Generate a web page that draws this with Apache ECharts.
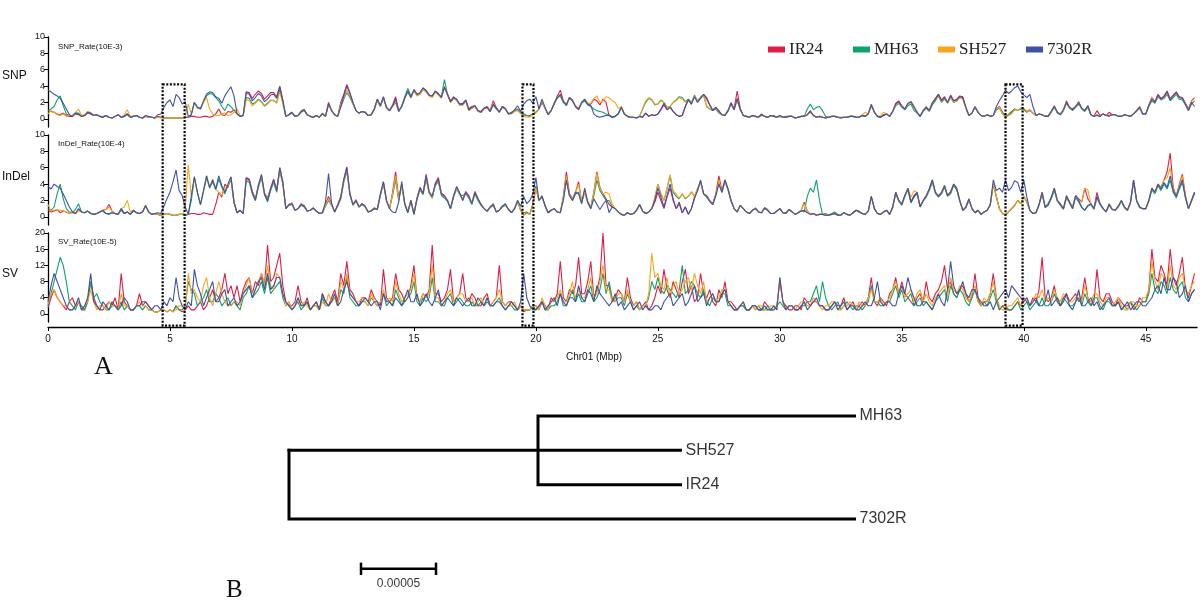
<!DOCTYPE html>
<html>
<head>
<meta charset="utf-8">
<script src="https://cdn.jsdelivr.net/npm/echarts@6/dist/echarts.min.js"></script>
<style>
  html, body { margin: 0; padding: 0; background: #fff; }
  #chart { width: 1200px; height: 605px; }
</style>
</head>
<body>
<div id="chart"></div>
<script>
// cultivars and colours
const cultivars = ['IR24', 'MH63', 'SH527', '7302R'];
const colors = ['#dc1e46', '#12a06b', '#f7a51e', '#3f51a6'];
const windowMbp = 0.125; // one value per 125 kb window along Chr01, one row = 1 Mbp

// SNP rate (10E-3)
const snpIR24 = [
  1.0,0.9,0.8,0.6,0.5,0.7,0.4,0.3, 0.3,0.6,0.5,0.3,0.4,0.7,0.6,0.4,
  0.5,0.3,0.2,0.4,0.2,0.1,0.3,0.5, 0.2,0.3,0.6,0.2,0.3,0.4,0.2,0.1,
  0.3,0.2,0.2,0.1,0.3,0.2,0.1,0.1, 0.1,0.1,0.1,0.1,0.1,0.2,0.2,0.3,
  0.3,0.2,0.2,0.3,0.3,0.2,0.3,0.6, 1.2,0.5,0.4,0.9,0.8,1.1,0.6,0.3,
  0.4,3.3,3.2,2.5,3.0,3.4,3.1,2.4, 2.8,3.2,3.2,2.7,4.0,2.3,0.3,0.5,
  0.8,0.3,0.4,0.9,1.1,0.5,0.3,0.2, 0.4,0.2,0.6,0.3,2.0,1.0,0.5,0.3,
  2.0,3.0,4.2,3.2,2.0,1.0,0.7,0.9, 0.8,0.4,0.5,1.2,2.4,1.6,2.6,1.4,
  1.0,1.7,2.7,1.0,1.5,2.6,3.3,2.6, 3.5,3.0,3.1,3.7,3.5,2.9,2.7,3.3,
  3.0,2.6,3.8,3.0,2.2,2.7,2.3,1.8, 1.9,2.3,1.2,1.5,1.6,1.0,0.9,1.3,
  1.5,1.0,2.2,1.4,0.9,1.5,1.3,0.6, 0.8,1.0,1.1,0.7,0.5,0.4,0.3,0.6,
  0.8,1.2,2.0,1.3,0.6,1.0,1.8,2.8, 3.5,2.2,1.7,2.6,2.3,1.5,1.1,2.0,
  2.3,1.8,1.8,2.4,2.2,1.7,2.4,2.0, 0.4,0.2,0.3,0.6,1.5,0.6,0.3,0.2,
  0.2,0.1,0.3,0.2,0.7,0.3,0.5,0.4, 0.6,1.1,1.7,1.1,1.5,0.9,0.5,0.3,
  0.4,1.5,2.4,1.8,2.8,2.1,2.6,3.0, 2.4,1.7,1.1,1.4,1.0,0.5,0.5,1.0,
  2.0,1.2,3.4,1.3,0.4,0.3,0.2,0.4, 0.3,0.2,0.6,0.3,0.2,0.4,0.4,0.2,
  0.4,0.2,0.3,0.3,0.3,0.1,0.2,0.3, 0.3,0.5,1.0,0.4,0.2,0.3,0.2,0.1,
  0.2,0.3,0.3,0.2,0.2,0.2,0.2,0.3, 0.3,0.2,0.2,0.4,0.3,0.6,1.8,0.8,
  0.3,0.2,0.5,0.6,0.3,0.9,1.9,2.2, 1.6,1.2,1.8,2.1,1.5,0.8,0.3,1.0,
  1.5,1.0,2.0,2.5,3.0,2.3,2.7,2.0, 2.9,2.2,2.4,2.8,2.7,1.4,0.4,0.7,
  1.4,0.8,0.4,0.3,0.5,0.3,0.4,1.2, 1.5,0.8,0.3,0.5,0.8,1.2,1.0,1.3,
  1.2,0.9,1.1,0.7,0.4,0.6,0.5,0.3, 0.4,0.9,1.6,0.8,0.6,1.1,2.2,1.4,
  1.2,1.5,2.1,1.3,1.0,1.6,0.5,0.3, 1.0,0.4,0.6,0.4,0.8,0.5,0.5,0.3,
  0.3,0.5,0.4,0.3,0.6,1.0,1.5,0.6, 0.6,1.7,2.6,2.1,3.0,2.5,2.8,3.4,
  2.5,2.9,3.3,2.7,2.6,1.9,1.2,2.2, 2.6
];
const snpMH63 = [
  1.0,1.2,1.5,2.3,2.8,1.6,0.6,0.4, 0.4,0.7,0.7,0.3,0.4,0.8,0.6,0.4,
  0.5,0.3,0.2,0.4,0.2,0.1,0.3,0.5, 0.2,0.3,0.5,0.2,0.3,0.4,0.2,0.1,
  0.3,0.2,0.2,0.1,0.2,0.2,0.1,0.1, 0.1,0.1,0.1,0.1,0.1,0.2,0.2,0.5,
  2.0,1.4,1.3,2.1,2.8,3.1,3.0,2.6, 2.2,1.5,1.0,1.8,1.5,1.0,0.6,0.3,
  0.4,2.6,2.5,1.8,2.0,2.4,2.1,1.6, 1.9,2.3,2.2,2.0,3.5,2.0,0.3,0.5,
  0.7,0.3,0.4,0.8,1.0,0.5,0.3,0.2, 0.4,0.2,0.7,0.3,1.8,1.0,0.5,0.3,
  1.4,2.4,3.2,2.6,1.8,1.0,0.7,0.9, 0.8,0.4,0.5,1.1,2.2,1.5,2.5,1.3,
  1.0,1.5,2.0,0.9,1.6,2.7,3.7,2.8, 3.4,2.9,3.0,3.6,3.3,2.8,2.8,3.3,
  3.0,2.7,4.8,3.0,2.0,2.5,2.4,1.7, 1.7,2.2,1.0,1.3,1.5,0.9,0.8,1.2,
  1.4,0.9,1.7,1.2,0.8,1.4,1.2,0.6, 0.7,1.0,1.2,0.8,0.6,0.4,0.4,0.6,
  0.8,1.2,2.1,1.3,0.5,1.0,1.8,2.5, 2.8,2.0,1.6,2.5,2.2,1.5,1.2,1.9,
  2.2,1.7,1.5,1.2,1.0,0.9,0.8,0.6, 0.5,0.2,0.3,0.6,1.4,0.6,0.3,0.2,
  0.2,0.1,0.3,1.2,2.0,2.5,2.3,1.7, 1.8,2.3,2.0,1.4,1.5,2.0,2.3,2.7,
  2.6,2.1,2.4,2.0,2.9,2.2,2.6,2.9, 1.5,1.2,1.0,1.2,0.7,0.5,0.4,0.9,
  1.8,1.1,2.3,1.1,0.4,0.3,0.2,0.4, 0.3,0.2,0.5,0.3,0.2,0.4,0.3,0.2,
  0.3,0.2,0.2,0.3,0.3,0.1,0.2,0.3, 0.3,1.2,1.8,1.1,1.4,1.5,1.0,0.3,
  0.2,0.3,0.3,0.2,0.1,0.2,0.2,0.3, 0.3,0.2,0.2,0.4,0.3,0.6,1.6,0.8,
  0.3,0.2,0.4,0.6,0.3,0.9,1.6,1.9, 1.4,1.1,1.6,1.8,1.0,0.7,0.3,0.9,
  1.3,0.9,1.7,2.2,2.8,2.0,2.4,1.9, 2.6,2.0,2.2,2.6,2.5,1.3,0.4,0.7,
  1.4,0.8,0.4,0.3,0.5,0.3,0.4,1.1, 1.3,0.7,0.2,0.5,0.9,1.2,1.0,1.2,
  1.1,0.8,1.0,0.7,0.4,0.6,0.5,0.3, 0.3,0.8,1.4,0.7,0.5,1.0,1.9,1.3,
  1.0,1.4,1.8,1.2,0.9,1.4,0.5,0.3, 0.5,0.3,0.6,0.4,0.4,0.5,0.5,0.3,
  0.3,0.5,0.4,0.3,0.6,0.9,1.3,0.6, 0.6,1.5,2.2,1.9,2.7,2.3,2.5,3.0,
  2.2,2.6,3.0,2.4,2.3,1.7,1.0,1.8, 2.2
];
const snpSH527 = [
  0.6,1.0,0.8,0.5,0.4,0.6,0.3,0.4, 0.4,0.8,1.2,0.4,0.5,0.9,0.8,0.4,
  0.5,0.3,0.3,0.4,0.2,0.1,0.3,0.5, 0.2,0.5,1.1,0.3,0.3,0.4,0.2,0.1,
  0.3,0.2,0.2,0.1,0.2,0.1,0.1,0.1, 0.1,0.1,0.1,0.1,0.1,0.3,1.8,0.6,
  2.0,1.3,1.2,2.0,2.6,1.2,0.6,0.4, 0.4,0.6,0.7,0.4,0.5,0.8,1.2,0.4,
  0.4,2.4,2.2,1.6,1.9,2.3,2.0,1.5, 1.8,2.2,2.3,1.9,3.3,1.9,0.3,0.5,
  0.8,0.3,0.4,1.0,1.2,0.5,0.3,0.2, 0.4,0.2,0.6,0.3,1.7,1.0,0.5,0.3,
  1.8,2.6,3.5,2.8,1.8,1.0,0.7,0.9, 0.9,0.4,0.5,1.2,2.3,1.5,2.6,1.4,
  1.0,1.5,2.2,0.9,1.5,2.5,3.3,2.6, 3.4,2.8,3.0,3.6,3.3,2.8,2.6,3.2,
  2.9,2.5,4.0,2.9,2.0,2.5,2.2,1.7, 1.7,2.1,1.0,1.3,1.5,0.9,0.8,1.2,
  1.4,0.9,1.9,1.3,0.8,1.5,1.2,0.6, 0.6,0.9,1.0,0.6,0.3,0.2,0.2,0.5,
  0.7,1.2,2.2,1.3,0.6,1.0,2.0,2.6, 2.9,2.1,1.8,2.5,2.2,1.5,1.3,2.0,
  2.4,1.9,1.9,2.5,2.8,2.0,2.2,2.7, 2.6,2.2,2.0,1.3,1.4,0.7,0.3,0.2,
  0.2,0.1,0.3,1.3,2.2,2.6,2.4,1.8, 1.8,2.2,2.0,1.4,1.5,2.0,2.2,2.6,
  2.4,2.0,2.2,1.9,2.8,2.1,2.5,2.8, 1.6,1.2,1.2,1.3,0.8,0.5,0.5,1.0,
  1.8,1.1,2.4,1.2,0.4,0.3,0.2,0.4, 0.3,0.2,0.4,0.3,0.2,0.4,0.3,0.2,
  0.3,0.2,0.2,0.3,0.3,0.1,0.2,0.3, 0.3,0.5,0.8,0.4,0.2,0.3,0.2,0.1,
  0.2,0.3,0.3,0.2,0.1,0.2,0.2,0.3, 0.3,0.2,0.2,0.5,0.8,0.6,1.7,0.8,
  0.3,0.4,0.8,0.6,0.3,0.9,1.7,2.0, 1.5,1.2,1.8,2.0,1.6,0.8,0.3,1.0,
  1.5,1.0,2.0,2.4,2.7,2.1,2.5,2.0, 2.6,2.1,2.2,2.6,2.4,1.3,0.4,0.7,
  1.4,0.8,0.4,0.3,0.5,0.3,0.4,1.3, 1.4,0.6,0.1,0.4,0.6,1.1,1.0,1.3,
  1.3,0.9,1.0,0.7,0.4,0.6,0.5,0.3, 0.4,0.9,1.5,0.8,0.6,1.1,2.0,1.4,
  1.1,1.5,2.0,1.3,1.0,1.5,0.5,0.3, 0.5,0.3,0.6,0.4,0.5,0.5,0.5,0.3,
  0.3,0.5,0.4,0.3,0.6,1.0,1.4,0.6, 0.6,1.6,2.5,2.0,2.8,2.4,2.6,3.2,
  2.4,2.8,3.1,2.6,2.5,1.8,1.0,2.1, 2.5
];
const snp7302R = [
  3.5,3.3,3.0,2.8,2.5,1.9,1.2,0.5, 0.3,0.7,0.6,0.3,0.4,0.8,0.7,0.4,
  0.5,0.3,0.2,0.4,0.2,0.1,0.3,0.5, 0.2,0.3,0.6,0.2,0.3,0.4,0.2,0.1,
  0.4,0.3,0.2,0.1,0.5,0.6,1.4,2.0, 2.3,1.5,3.0,2.6,1.8,2.1,0.3,0.5,
  2.0,1.4,1.2,2.2,3.0,3.3,3.2,2.7, 2.5,1.9,2.8,3.4,3.9,2.8,0.6,0.3,
  0.4,3.2,3.0,2.2,2.6,3.1,2.8,2.1, 2.4,2.9,3.0,2.5,3.9,2.2,0.3,0.5,
  0.8,0.3,0.4,0.9,1.1,0.5,0.3,0.2, 0.4,0.2,0.6,0.3,1.8,1.0,0.5,0.3,
  1.5,2.8,4.0,3.1,2.0,1.0,0.7,0.9, 0.8,0.4,0.5,1.2,2.4,1.6,2.7,1.4,
  1.0,1.6,2.4,0.9,1.5,2.5,3.4,2.6, 3.6,3.0,3.2,3.8,3.4,2.9,2.8,3.4,
  3.1,2.6,3.9,3.0,2.1,2.6,2.4,1.8, 1.8,2.3,1.1,1.4,1.6,1.0,0.8,1.3,
  1.4,0.9,1.8,1.3,0.8,1.5,1.2,0.6, 0.7,1.1,1.6,0.9,1.8,2.2,2.4,1.9,
  2.7,1.2,2.4,1.4,0.5,1.0,1.9,2.6, 3.0,2.1,1.7,2.6,2.2,1.5,1.2,2.0,
  2.4,1.8,1.6,0.6,0.3,0.2,0.3,0.4, 0.4,0.2,0.3,0.6,1.4,0.6,0.3,0.2,
  0.2,0.1,0.3,0.2,0.7,0.3,0.5,0.4, 0.6,1.2,1.9,1.1,1.4,0.9,0.5,0.3,
  0.4,1.5,2.3,1.8,2.7,2.0,2.5,3.0, 2.6,1.7,1.0,1.4,0.9,0.5,0.4,1.0,
  1.9,1.1,2.5,1.2,0.4,0.3,0.2,0.4, 0.3,0.2,0.5,0.3,0.2,0.4,0.3,0.2,
  0.4,0.2,0.2,0.3,0.3,0.1,0.2,0.3, 0.3,0.5,0.9,0.4,0.2,0.3,0.2,0.1,
  0.2,0.3,0.3,0.2,0.1,0.2,0.2,0.3, 0.3,0.2,0.2,0.4,0.3,0.6,1.7,0.8,
  0.3,0.2,0.4,0.6,0.3,0.9,1.8,2.1, 1.5,1.2,1.9,2.1,1.4,0.8,0.3,1.0,
  1.4,1.0,1.9,2.4,3.0,2.2,2.6,2.0, 2.8,2.2,2.3,2.7,2.6,1.4,0.4,0.7,
  1.5,0.8,0.4,0.3,0.5,0.3,0.4,1.5, 2.2,2.8,3.5,3.1,3.4,3.8,4.0,3.3,
  2.9,2.6,3.0,1.5,0.4,0.6,0.5,0.3, 0.3,0.9,1.5,0.8,0.5,1.1,2.0,1.4,
  1.1,1.5,2.0,1.3,1.0,1.6,0.5,0.3, 0.4,0.3,0.6,0.4,0.3,0.5,0.5,0.3,
  0.3,0.5,0.4,0.3,0.6,1.0,1.4,0.6, 0.6,1.6,2.4,2.0,2.9,2.4,2.7,3.3,
  2.3,2.8,3.2,2.6,2.5,1.8,1.0,2.0, 1.5
];

// InDel rate (10E-4)
const indelIR24 = [
  0.8,0.6,0.7,0.9,0.5,0.7,0.6,0.4, 0.6,0.4,0.8,0.6,0.5,0.7,0.4,0.3,
  0.4,0.6,0.8,0.9,1.5,0.7,0.4,0.3, 1.0,0.4,0.6,0.3,0.8,0.5,0.4,0.6,
  1.4,0.6,0.3,0.4,0.3,0.2,0.3,0.4, 0.3,0.2,0.2,0.3,0.3,0.2,0.3,0.4,
  0.4,0.3,0.3,0.5,0.4,0.3,0.3,1.5, 3.0,2.4,4.0,3.6,4.8,1.8,0.5,0.8,
  0.4,4.8,4.6,3.1,2.2,3.9,5.0,2.9, 2.3,3.5,4.6,3.3,6.0,4.3,1.0,1.5,
  1.7,0.8,1.0,1.6,1.4,0.7,0.8,1.1, 0.7,0.4,0.5,1.5,2.5,1.6,0.6,1.5,
  2.5,4.6,6.1,2.9,1.5,2.1,1.2,1.6, 1.3,0.6,0.8,1.1,0.9,2.7,4.2,2.0,
  1.0,3.0,5.5,2.2,4.0,1.6,0.6,2.0, 0.4,2.3,3.6,2.9,5.2,3.1,2.4,4.1,
  4.8,2.9,2.6,2.0,1.0,2.6,3.6,2.9, 2.1,3.1,2.6,1.6,3.1,2.2,1.5,1.0,
  0.7,1.2,1.6,0.6,0.8,1.3,1.5,0.9, 0.5,1.0,2.0,0.8,0.2,0.5,0.3,1.5,
  3.5,2.0,2.6,1.4,0.5,0.8,1.0,0.6, 0.5,2.5,5.5,2.8,2.2,3.0,4.3,1.8,
  3.2,1.8,1.2,3.0,5.5,3.6,2.8,2.2, 1.5,1.2,1.0,0.6,0.3,0.2,0.5,0.3,
  0.4,0.8,1.5,0.7,0.4,0.6,1.0,1.8, 3.0,2.0,1.0,2.4,3.5,2.0,1.0,1.6,
  0.5,1.2,0.3,1.0,2.4,3.2,4.3,2.8, 2.6,2.0,1.6,2.8,5.0,3.2,4.5,3.4,
  2.0,1.0,0.6,1.4,1.0,0.6,0.4,0.8, 1.1,0.6,0.5,1.1,0.9,0.4,0.4,0.7,
  1.0,0.5,0.5,0.9,0.6,0.3,0.5,0.8, 1.8,0.7,0.3,0.4,0.2,0.3,0.3,0.2,
  0.2,0.3,0.4,0.2,0.2,0.5,0.3,0.2, 0.5,0.8,0.7,0.4,0.3,0.7,2.5,1.0,
  0.4,0.3,0.6,0.8,0.3,1.2,3.0,2.0, 1.6,2.6,3.4,1.8,2.6,3.0,1.3,2.0,
  2.6,3.4,4.5,3.0,2.6,3.0,3.8,2.6, 3.1,4.0,3.4,2.0,0.8,1.2,2.2,1.0,
  0.5,0.8,0.3,0.6,0.8,1.5,4.0,2.5, 1.0,0.4,0.2,0.6,1.0,1.4,2.0,1.6,
  2.5,1.8,0.8,0.4,0.5,1.5,3.0,1.2, 1.6,2.4,3.4,2.0,1.6,1.0,2.6,1.8,
  1.2,2.6,2.2,1.8,3.5,2.2,1.6,1.0, 3.0,1.6,1.0,0.6,1.6,0.9,0.8,1.3,
  2.0,1.2,0.8,1.8,4.5,2.0,1.2,1.0, 1.0,2.0,3.5,3.0,4.0,3.6,4.5,5.5,
  7.8,3.6,2.5,4.0,5.2,2.6,1.0,2.0, 3.0
];
const indelMH63 = [
  1.0,0.8,1.2,2.8,4.0,2.2,1.0,0.6, 0.5,0.9,1.6,0.6,0.5,0.7,0.4,0.3,
  0.4,0.6,0.7,0.4,0.4,0.5,0.4,0.3, 0.8,0.4,0.6,0.3,0.7,0.5,0.4,0.6,
  1.3,0.6,0.3,0.4,0.3,0.2,0.3,0.4, 0.3,0.2,0.2,0.3,0.3,0.2,0.3,2.0,
  4.8,3.0,1.5,3.1,4.8,3.5,4.3,3.3, 4.6,3.6,2.8,3.8,4.5,1.7,0.5,0.8,
  0.4,4.4,4.2,2.8,2.0,3.6,4.8,2.7, 1.8,3.2,4.2,3.0,5.6,4.0,1.0,1.4,
  1.5,0.8,1.0,1.4,1.2,0.7,0.8,1.0, 0.7,0.4,0.5,1.3,2.0,1.4,0.6,1.3,
  2.2,4.2,5.6,2.7,1.4,1.9,1.2,1.5, 1.2,0.6,0.7,1.0,0.9,2.6,4.0,1.9,
  1.0,2.6,4.5,2.0,3.8,1.5,0.5,1.9, 0.3,2.1,3.3,2.7,4.6,2.9,2.3,3.8,
  4.3,2.6,2.3,1.9,1.0,2.4,3.4,2.7, 2.6,2.8,2.3,1.5,2.8,2.0,1.4,1.0,
  0.7,1.1,1.4,0.6,0.8,1.2,1.4,0.9, 0.5,1.0,1.8,0.8,0.5,0.6,0.3,1.6,
  3.8,2.0,2.4,1.3,0.5,0.8,1.0,0.6, 0.5,2.2,4.5,2.6,2.0,2.8,3.0,1.7,
  3.0,1.7,1.0,2.6,4.5,3.2,2.6,2.0, 2.0,1.3,1.0,0.6,0.3,0.2,0.5,0.3,
  0.4,0.8,1.4,0.7,0.4,0.6,1.0,2.2, 4.0,2.8,2.0,3.4,5.0,3.0,2.5,2.2,
  2.8,2.2,2.5,3.0,2.5,3.4,4.3,2.8, 2.4,1.9,1.5,2.6,4.2,3.0,4.3,3.3,
  1.9,1.0,0.6,1.4,1.0,0.6,0.4,0.8, 1.0,0.6,0.5,1.0,0.8,0.4,0.4,0.7,
  1.0,0.5,0.4,0.9,0.6,0.3,0.5,0.7, 0.6,2.5,3.5,3.0,4.5,2.0,0.3,0.4,
  0.2,0.4,0.6,0.3,0.2,0.5,0.3,0.2, 0.5,0.8,0.6,0.4,0.3,0.7,2.4,1.0,
  0.4,0.3,0.6,0.8,0.3,1.1,2.8,1.9, 1.4,2.5,3.3,1.7,2.4,2.8,1.2,1.9,
  2.4,3.2,4.2,2.9,2.4,2.8,3.6,2.5, 2.8,3.8,3.3,1.9,0.8,1.1,2.0,1.0,
  0.5,0.8,0.3,0.6,0.8,1.4,4.0,2.4, 1.0,0.4,0.2,0.6,1.0,1.4,2.0,1.6,
  2.5,1.8,0.8,0.4,0.5,1.4,2.8,1.1, 1.4,2.2,3.2,1.9,1.4,0.9,2.3,1.7,
  1.0,2.4,1.8,1.1,0.8,1.3,1.5,0.9, 2.3,1.5,1.0,0.6,1.4,0.9,0.8,1.2,
  1.9,1.1,0.8,1.7,4.2,1.9,1.1,1.0, 1.0,1.9,3.3,2.8,3.8,3.2,4.0,3.4,
  4.5,3.0,2.3,3.4,4.2,2.3,1.0,1.9, 2.8
];
const indelSH527 = [
  1.5,0.7,0.8,0.9,0.8,0.7,0.6,0.4, 0.5,0.4,0.8,0.6,0.5,0.7,0.4,0.3,
  0.4,0.6,0.8,0.9,1.2,0.7,0.4,0.3, 1.0,1.2,2.0,0.6,0.8,0.5,0.4,0.6,
  1.4,0.6,0.3,0.4,0.3,0.2,0.3,0.4, 0.3,0.2,0.2,0.3,0.3,0.8,6.4,2.5,
  4.8,3.0,1.5,3.2,5.0,3.6,4.6,3.4, 3.0,2.6,3.5,3.8,4.8,1.8,0.5,0.8,
  0.4,4.6,4.4,3.0,2.1,3.8,5.1,2.8, 2.2,3.4,4.4,3.2,5.8,4.1,1.0,1.5,
  1.6,0.8,1.0,1.5,1.4,0.7,0.8,1.1, 0.7,0.4,0.5,1.4,2.2,1.5,0.6,1.4,
  2.3,4.4,5.8,2.8,1.5,2.0,1.2,1.6, 1.3,0.6,0.8,1.0,0.9,2.7,4.2,2.0,
  1.0,2.8,5.0,2.1,3.8,1.6,0.6,2.0, 0.4,2.2,3.4,2.8,4.8,3.0,2.4,3.9,
  4.5,2.8,2.5,2.0,1.0,2.5,3.5,2.8, 2.0,3.0,2.5,1.6,3.0,2.2,1.5,1.0,
  0.7,1.2,1.5,0.6,0.8,1.3,1.5,0.9, 0.5,1.0,2.0,0.8,0.2,0.4,0.3,1.4,
  3.5,2.0,2.5,1.4,0.5,0.8,1.0,0.6, 0.5,2.4,5.0,2.7,2.2,3.0,4.0,1.8,
  3.0,1.8,1.2,3.0,5.3,3.5,2.8,3.0, 2.8,1.6,1.0,0.6,0.3,0.2,0.5,0.3,
  0.4,0.8,1.5,0.7,0.4,0.6,1.0,2.4, 4.0,2.9,2.0,3.5,5.2,3.2,2.8,2.3,
  2.8,2.3,2.5,3.1,2.5,3.5,4.3,2.8, 2.5,2.0,1.5,2.7,4.5,3.1,4.3,3.3,
  2.0,1.0,0.6,1.4,1.0,0.6,0.4,0.8, 1.0,0.6,0.5,1.1,0.8,0.4,0.4,0.7,
  1.0,0.5,0.4,0.9,0.6,0.3,0.5,0.8, 1.6,0.7,0.3,0.4,0.2,0.3,0.3,0.2,
  0.2,0.3,0.4,0.2,0.2,0.5,0.3,0.2, 0.5,0.8,0.6,0.4,0.3,0.7,2.5,1.0,
  0.4,0.3,0.6,0.8,0.3,1.2,3.0,2.0, 1.5,2.6,3.5,2.4,3.2,3.0,1.2,2.0,
  2.5,3.4,4.4,3.0,2.5,2.9,3.8,2.6, 3.0,4.0,3.5,2.0,0.8,1.2,2.2,1.0,
  0.5,0.8,0.3,0.6,0.8,1.5,4.0,2.5, 1.0,0.4,0.2,0.6,1.0,1.4,2.0,1.6,
  2.5,1.8,0.8,0.4,0.5,1.5,3.0,1.2, 1.6,2.4,3.5,2.0,1.5,1.0,2.5,1.8,
  1.2,2.6,2.0,1.8,3.5,3.3,1.6,1.0, 2.5,1.6,1.0,0.6,1.5,0.9,0.8,1.3,
  2.0,1.2,0.8,1.8,4.5,2.0,1.2,1.0, 1.0,2.0,3.5,3.0,4.0,3.5,4.5,4.8,
  6.0,3.4,2.5,3.8,5.0,2.5,1.0,2.0, 3.0
];
const indel7302R = [
  3.7,3.4,4.0,3.7,3.5,2.8,2.0,1.2, 0.6,0.4,1.0,0.6,0.5,0.7,0.4,0.3,
  0.4,0.6,0.8,0.4,0.3,0.5,0.4,0.3, 1.0,0.4,0.6,0.3,0.8,0.5,0.4,0.6,
  1.4,0.6,0.3,0.4,0.5,0.4,1.3,2.2, 3.0,4.3,5.7,3.2,2.6,1.2,0.3,2.5,
  4.9,3.0,1.5,3.2,5.0,3.6,4.5,3.4, 5.0,3.8,3.0,4.0,4.9,1.8,0.5,0.8,
  0.4,4.7,4.5,3.0,2.0,3.8,5.2,2.8, 2.0,3.4,4.5,3.2,6.0,4.2,1.0,1.5,
  1.6,0.8,1.0,1.5,1.3,0.7,0.8,1.1, 0.7,0.4,0.5,1.8,5.3,1.6,0.6,1.4,
  2.3,4.5,6.0,2.8,1.5,2.0,1.2,1.6, 1.3,0.6,0.7,1.0,0.9,2.8,4.3,2.0,
  1.0,0.6,0.5,1.8,4.3,1.6,0.5,2.0, 0.3,2.2,3.5,2.8,5.0,3.0,2.5,4.0,
  4.6,2.8,2.5,2.0,1.0,2.5,3.7,2.9, 2.0,3.0,2.5,1.6,3.0,2.2,1.5,1.0,
  0.7,1.2,1.5,0.6,0.8,1.3,1.6,0.9, 0.5,1.0,2.0,1.3,2.5,1.6,2.0,2.8,
  4.8,2.0,2.5,1.4,0.5,0.8,1.0,0.6, 0.5,2.0,4.5,2.6,2.0,3.0,2.8,1.6,
  3.5,1.8,1.0,2.2,1.5,0.9,1.5,2.0, 0.5,1.2,1.0,0.6,0.3,0.2,0.5,0.3,
  0.4,0.8,1.5,0.7,0.4,0.6,1.0,2.0, 3.5,2.4,1.2,2.6,4.0,2.2,1.0,1.8,
  0.5,1.2,0.3,1.0,2.2,3.2,4.5,2.8, 2.5,1.9,1.5,2.6,4.0,3.0,4.5,3.4,
  2.0,1.0,0.6,1.4,1.0,0.6,0.4,0.8, 1.0,0.6,0.5,1.1,0.8,0.4,0.4,0.7,
  1.0,0.5,0.4,0.9,0.6,0.3,0.5,0.7, 0.8,0.5,0.3,0.4,0.2,0.3,0.3,0.2,
  0.2,0.3,0.4,0.2,0.2,0.5,0.3,0.2, 0.5,0.8,0.6,0.4,0.3,0.7,2.5,1.0,
  0.4,0.3,0.6,0.8,0.3,1.2,3.0,2.0, 1.5,2.6,3.5,1.8,2.5,3.0,1.2,2.0,
  2.5,3.4,4.5,3.0,2.5,2.9,3.8,2.6, 3.0,4.0,3.5,2.0,0.8,1.2,2.2,1.0,
  0.5,0.8,0.3,0.6,0.8,1.5,4.5,3.2, 3.5,3.0,4.5,3.2,3.6,4.4,4.2,3.0,
  4.5,2.4,0.8,0.4,0.5,1.5,3.0,1.2, 1.5,2.4,3.5,2.0,1.5,1.0,2.5,1.8,
  1.0,2.6,2.0,1.2,0.8,1.4,1.6,1.0, 2.5,1.6,1.0,0.6,1.5,0.9,0.8,1.3,
  2.0,1.2,0.8,1.8,4.5,2.0,1.2,1.0, 1.0,2.0,3.5,3.0,4.0,3.4,4.2,3.6,
  5.0,3.2,2.5,3.6,4.5,2.4,1.0,2.0, 3.0
];

// SV rate (10E-5)
const svIR24 = [
  1.5,4,6,4,3,2,1,3, 4,2,3,1,1,3,8,4,
  2,1,1,2,3,2,4,1, 10,3,2,1,1,2,5,2,
  3,2,1,0.5,0.5,1,1,0.5, 1,0.5,2,1,0.5,1,2,1,
  1,2,3,1,2,4,6,3, 4,6,10,5,7,4,7,3,
  6,8,9,5,8,7,10,7, 17,8,9,12,15,7,3,2,
  2,3,7,3,2,4,1,2, 3,1,5,3,2,4,6,3,
  10,7,13,6,5,3,2,4, 4,3,6,4,3,2,11,4,
  3,4,10,6,5,3,4,7, 12,4,3,5,4,6,17,5,
  5,3,4,6,11,3,4,5, 10,4,3,5,4,2,2,4,
  5,2,3,4,12,3,2,3, 3,2,1,2,0.5,1,1,2,
  2,1,3,2,1,4,3,5, 13,4,3,6,5,7,14,5,
  5,8,13,4,6,9,20,7, 7,3,4,6,5,3,9,4,
  2,3,1,2,3,1,2,4, 7,5,11,6,4,8,6,4,
  8,11,5,7,3,4,10,5, 4,6,3,2,6,4,8,3,
  3,2,1,2,2,1,1,2, 2,1,1,3,2,1,1,2,
  8,3,2,1,1,2,2,1, 4,3,2,3,3,2,2,1,
  1,2,3,2,2,4,1,2, 3,1,2,3,2,4,9,3,
  2,4,3,2,5,6,9,5, 8,5,4,3,2,4,5,3,
  8,4,3,5,6,8,12,6, 8,5,4,6,7,5,3,4,
  10,4,2,3,3,5,10,4, 1,2,2,1,1,2,3,2,
  4,3,2,4,3,6,14,4, 3,4,7,3,2,4,5,3,
  4,5,3,4,9,4,2,3, 11,4,3,5,5,3,2,4,
  3,2,2,3,1,2,4,3, 3,6,16,9,8,12,10,7,
  16,9,7,10,14,6,4,7, 10
];
const svMH63 = [
  2,5,8,11,14,12,8,3, 2,1,3,2,1,3,8,4,
  5,3,2,1,1,2,2,1, 3,1,2,1,1,2,2,1,
  2,1,1,0.5,0.5,1,1,0.5, 1,0.5,2,1,1,2,8,6,
  5,2,3,4,6,3,3,5, 4,2,3,4,2,3,2,1,
  4,5,7,4,5,6,8,5, 9,5,6,7,8,4,2,3,
  1,2,3,1,2,3,1,2, 2,1,4,2,2,3,4,2,
  6,5,9,4,3,2,2,3, 3,2,4,3,2,3,5,2,
  3,2,6,4,2,3,4,5, 8,3,2,4,3,4,9,3,
  3,2,2,4,5,2,3,4, 3,2,2,3,2,2,3,2,
  3,2,2,3,4,2,1,2, 2,1,1,2,1,1,1,2,
  1,2,3,1,1,2,2,3, 5,2,2,4,6,3,5,3,
  3,5,7,3,4,6,10,5, 8,4,3,4,4,2,5,3,
  1,2,1,2,2,4,8,6, 9,6,5,7,6,5,4,6,
  12,5,6,8,7,5,4,6, 3,2,4,3,3,5,5,2,
  2,1,1,2,2,1,1,2, 1,2,1,1,2,1,1,2,
  3,2,1,2,2,1,1,2, 2,3,3,5,7,3,8,4,
  2,1,2,3,1,2,3,2, 1,2,2,1,2,3,7,3,
  3,2,2,3,3,5,7,4, 6,3,4,5,2,3,4,2,
  3,2,1,3,4,5,6,3, 7,5,4,6,5,3,2,4,
  6,3,2,3,2,4,6,3, 1,2,1,1,1,2,3,1,
  2,3,1,2,3,2,4,2, 2,3,5,3,2,4,3,2,
  2,3,4,2,5,3,2,4, 4,2,1,3,3,2,2,3,
  1,2,1,3,2,1,2,3, 3,5,10,6,5,8,7,5,
  9,6,5,7,8,4,3,5, 6
];
const svSH527 = [
  2.5,5,6,4,3,2,2,1, 1,2,3,1,2,3,6,3,
  1,2,2,1,3,2,2,1, 5,2,2,1,1,2,3,2,
  2,1,1,0.5,0.5,1,1,0.5, 1,0.5,1,2,2,1,10,5,
  6,4,3,7,9,4,2,5, 8,5,3,2,2,3,3,2,
  5,7,9,5,6,8,10,7, 12,7,6,10,9,5,2,3,
  1,2,4,2,3,2,1,2, 2,1,3,2,5,3,4,2,
  8,6,10,5,4,3,3,4, 3,2,5,3,2,3,6,3,
  4,3,8,5,3,4,5,6, 10,4,3,5,4,5,12,4,
  4,2,3,5,6,3,4,5, 5,3,3,4,2,3,4,2,
  4,2,3,4,6,3,2,3, 2,3,1,2,1,1,1,2,
  2,1,4,2,1,3,3,4, 6,3,3,5,8,4,6,4,
  4,6,9,4,5,8,12,6, 6,3,3,5,5,3,6,3,
  2,3,1,2,2,5,15,9, 10,7,6,9,4,7,8,5,
  6,8,9,6,10,7,5,8, 3,4,5,3,4,6,6,3,
  2,1,1,2,3,1,1,2, 1,2,2,1,1,2,2,1,
  9,3,1,2,2,1,2,3, 3,2,2,4,3,2,1,2,
  2,3,3,1,1,2,2,3, 2,1,3,2,2,4,6,3,
  3,4,2,3,4,6,8,5, 7,4,5,6,3,5,6,3,
  5,3,2,4,5,6,7,4, 9,6,5,7,6,4,3,5,
  7,3,2,4,3,5,8,4, 2,1,1,2,2,3,4,2,
  3,4,2,3,5,4,6,3, 4,3,6,4,3,5,4,3,
  3,4,5,3,7,4,3,5, 5,3,2,4,4,2,3,4,
  2,1,1,3,3,2,2,4, 4,6,13,8,6,10,9,6,
  12,7,6,9,10,6,5,7, 8
];
const sv7302R = [
  3,7,10,8,6,4,2,1, 1,2,4,1,2,4,10,3,
  2,1,3,2,1,3,2,1, 2,4,3,1,1,2,2,3,
  3,2,1,2,2,1,3,2, 4,3,9,4,2,1,3,2,
  11,7,5,2,4,6,8,3, 3,5,6,2,3,4,2,3,
  5,6,7,4,6,8,9,6, 10,6,7,9,9,5,3,2,
  1,2,4,2,2,3,1,2, 3,1,5,3,2,3,5,2,
  3,6,8,5,4,3,2,3, 4,3,2,3,3,1,5,3,
  3,2,4,3,2,4,6,3, 3,5,2,3,5,3,2,4,
  6,2,3,4,3,2,4,3, 2,3,4,2,2,4,3,2,
  4,2,2,3,3,2,1,2, 3,2,1,3,10,4,2,1,
  1,2,3,1,2,3,4,2, 5,3,2,4,4,3,7,4,
  3,6,5,3,7,5,4,3, 2,3,5,2,3,1,2,3,
  1,2,3,1,2,1,1,2, 2,1,3,4,5,2,3,4,
  5,2,3,5,7,3,4,5, 2,4,5,3,3,5,6,3,
  2,1,1,2,3,1,1,2, 2,1,1,2,1,1,2,1,
  9,3,1,2,2,1,1,2, 3,1,2,3,4,2,2,1,
  1,2,3,1,2,3,1,2, 2,1,1,2,3,2,2,4,
  8,3,2,3,3,2,2,5, 7,5,9,6,4,2,2,3,
  3,2,1,3,5,3,2,6, 13,7,5,6,8,5,4,6,
  6,4,3,2,2,3,1,3, 4,5,6,4,7,6,5,4,
  3,4,2,3,4,2,2,3, 6,2,3,4,2,3,5,2,
  1,3,6,2,2,3,4,2, 3,1,2,3,4,2,2,3,
  1,2,3,1,2,3,3,2, 2,3,4,6,7,5,9,6,
  6,9,8,4,5,7,3,5, 6
];

// panel setup: label, rate caption, y range, tick values
const panelNames = ['SNP', 'InDel', 'SV'];
const panelRates = ['SNP_Rate(10E-3)', 'InDel_Rate(10E-4)', 'SV_Rate(10E-5)'];
const panelTicks = [[0, 2, 4, 6, 8, 10], [0, 2, 4, 6, 8, 10], [0, 4, 8, 12, 16, 20]];
const panelMin = [-1, -1, -2];
const panelMax = [10, 10, 20];
const panelData = [
  [snpIR24, snpMH63, snpSH527, snp7302R],
  [indelIR24, indelMH63, indelSH527, indel7302R],
  [svIR24, svMH63, svSH527, sv7302R]
];
const xTicks = [0, 5, 10, 15, 20, 25, 30, 35, 40, 45];
const chrLength = 47.1;

// highlighted regions (Mbp) drawn as dotted boxes
const boxRanges = [[4.7, 5.6], [19.45, 19.9], [39.25, 39.95]];
const boxTopSnp = 4.2;

// neighbour-joining tree (branch lengths in units of 1e-5)
const treeLeaves = ['MH63', 'SH527', 'IR24', '7302R'];
const cladeNodeDist = 16.6;
const tipDist = [37.7, 26.1, 26.1, 37.7];
const scaleBarRange = [4.8, 9.8];
const scaleBarLabel = '0.00005';

const panelTop = [37, 135, 233];
const panelHeight = [90, 90, 89];

const chart = echarts.init(document.getElementById('chart'));

const grids = panelTop.map((t, i) => ({ left: 48, right: 3, top: t, height: panelHeight[i] }));
grids.push({ left: 289, right: 345.5, top: 416, height: 171.7 });

const xAxes = panelNames.map((n, i) => ({
  gridIndex: i, type: 'value', min: 0, max: chrLength,
  show: i === 2,
  offset: 5,
  axisLine: { show: true, onZero: false, lineStyle: { color: '#000', width: 1.3 } },
  axisTick: { show: true, length: 4, customValues: xTicks, lineStyle: { color: '#000' } },
  axisLabel: { customValues: xTicks, fontSize: 10, color: '#111', margin: 7, fontFamily: 'Liberation Sans' },
  splitLine: { show: false }
}));
xAxes.push({ gridIndex: 3, type: 'value', min: 0, max: tipDist[3], show: false });

const yAxes = panelNames.map((n, i) => ({
  gridIndex: i, type: 'value', min: panelMin[i], max: panelMax[i],
  axisLine: { show: true, lineStyle: { color: '#000', width: 1.3 } },
  axisTick: { show: true, length: 4, customValues: panelTicks[i], lineStyle: { color: '#000' } },
  axisLabel: { customValues: panelTicks[i], fontSize: 9, color: '#111', margin: 3, fontFamily: 'Liberation Sans' },
  splitLine: { show: false }
}));
yAxes.push({ gridIndex: 3, type: 'value', min: 0, max: 5, inverse: true, show: false });

const series = [];
panelData.forEach((group, p) => {
  group.forEach((values, c) => {
    series.push({
      type: 'line', name: cultivars[c], xAxisIndex: p, yAxisIndex: p,
      data: values.map((v, i) => [i * windowMbp, v]),
      showSymbol: false, silent: true,
      lineStyle: { width: 1.1, color: colors[c] },
      itemStyle: { color: colors[c] }
    });
  });
});

// tree branches
const treeLine = { color: '#000', width: 3, cap: 'square', join: 'miter' };
const treePaths = [
  [[0, 1], [0, 3], [tipDist[3], 3]],
  [[0, 1], [tipDist[1], 1]],
  [[tipDist[0], 0], [cladeNodeDist, 0], [cladeNodeDist, 2], [tipDist[2], 2]]
];
treePaths.forEach(path => {
  series.push({
    type: 'line', xAxisIndex: 3, yAxisIndex: 3, data: path,
    showSymbol: false, silent: true, clip: false, lineStyle: treeLine
  });
});
series.push({
  type: 'scatter', xAxisIndex: 3, yAxisIndex: 3, symbolSize: 0, silent: true, clip: false,
  data: treeLeaves.map((name, i) => [tipDist[i], i, name]),
  label: {
    show: true, position: 'right', distance: 5, color: '#000', fontSize: 16,
    fontFamily: 'Liberation Sans', formatter: p => p.value[2]
  }
});
// scale bar
const barRow = 4.45, capTop = 4.27, capBottom = 4.63;
[
  [[scaleBarRange[0], barRow], [scaleBarRange[1], barRow]],
  [[scaleBarRange[0], capTop], [scaleBarRange[0], capBottom]],
  [[scaleBarRange[1], capTop], [scaleBarRange[1], capBottom]]
].forEach(seg => {
  series.push({
    type: 'line', xAxisIndex: 3, yAxisIndex: 3, data: seg,
    showSymbol: false, silent: true, clip: false, lineStyle: { color: '#000', width: 2.5 }
  });
});
series.push({
  type: 'scatter', xAxisIndex: 3, yAxisIndex: 3, symbolSize: 0, silent: true, clip: false,
  data: [[(scaleBarRange[0] + scaleBarRange[1]) / 2, capBottom, scaleBarLabel]],
  label: {
    show: true, position: 'bottom', distance: 3, color: '#000', fontSize: 12,
    fontFamily: 'Liberation Sans Narrow, Liberation Sans', formatter: p => p.value[2]
  }
});

const legendLeft = [768, 853, 938, 1026];
const legends = cultivars.map((c, i) => ({
  data: [c], left: legendLeft[i], top: 41, padding: 0, selectedMode: false,
  icon: 'rect', itemWidth: 17, itemHeight: 6, itemGap: 0,
  textStyle: { fontFamily: 'Liberation Serif', fontSize: 17, color: '#222', padding: [0, 0, 0, -1] }
}));

const texts = [];
const nameY = [77, 178, 275];
const rateY = [48, 145, 243];
panelNames.forEach((n, i) => {
  texts.push({ type: 'text', left: 2, top: nameY[i] - 7, style: { text: n, font: '12px "Liberation Sans"', fill: '#111' } });
  texts.push({ type: 'text', left: 58, top: rateY[i] - 5, style: { text: panelRates[i], font: '8px "Liberation Sans"', fill: '#111' } });
});
texts.push({ type: 'text', left: 566, top: 352, style: { text: 'Chr01 (Mbp)', font: '10px "Liberation Sans"', fill: '#111' } });
texts.push({ type: 'text', left: 94, top: 354, style: { text: 'A', font: '26px "Liberation Serif"', fill: '#111' } });
texts.push({ type: 'text', left: 226, top: 578, style: { text: 'B', font: '25px "Liberation Serif"', fill: '#111' } });

chart.setOption({
  animation: false,
  backgroundColor: '#fff',
  grid: grids,
  xAxis: xAxes,
  yAxis: yAxes,
  legend: legends,
  series: series,
  graphic: texts
});

// dotted boxes around the highlighted regions, placed through the axes
const topPx = chart.convertToPixel({ yAxisIndex: 0 }, boxTopSnp);
const bottomPx = chart.convertToPixel({ yAxisIndex: 2 }, -2.9);
const boxes = boxRanges.map(r => {
  const x0 = chart.convertToPixel({ xAxisIndex: 2 }, r[0]);
  const x1 = chart.convertToPixel({ xAxisIndex: 2 }, r[1]);
  return {
    type: 'rect', silent: true, z: 100,
    shape: { x: x0, y: topPx, width: x1 - x0, height: bottomPx - topPx },
    style: { fill: 'none', stroke: '#000', lineWidth: 2.2, lineDash: [2, 1.6] }
  };
});
chart.setOption({ graphic: texts.concat(boxes) });
</script>
</body>
</html>
